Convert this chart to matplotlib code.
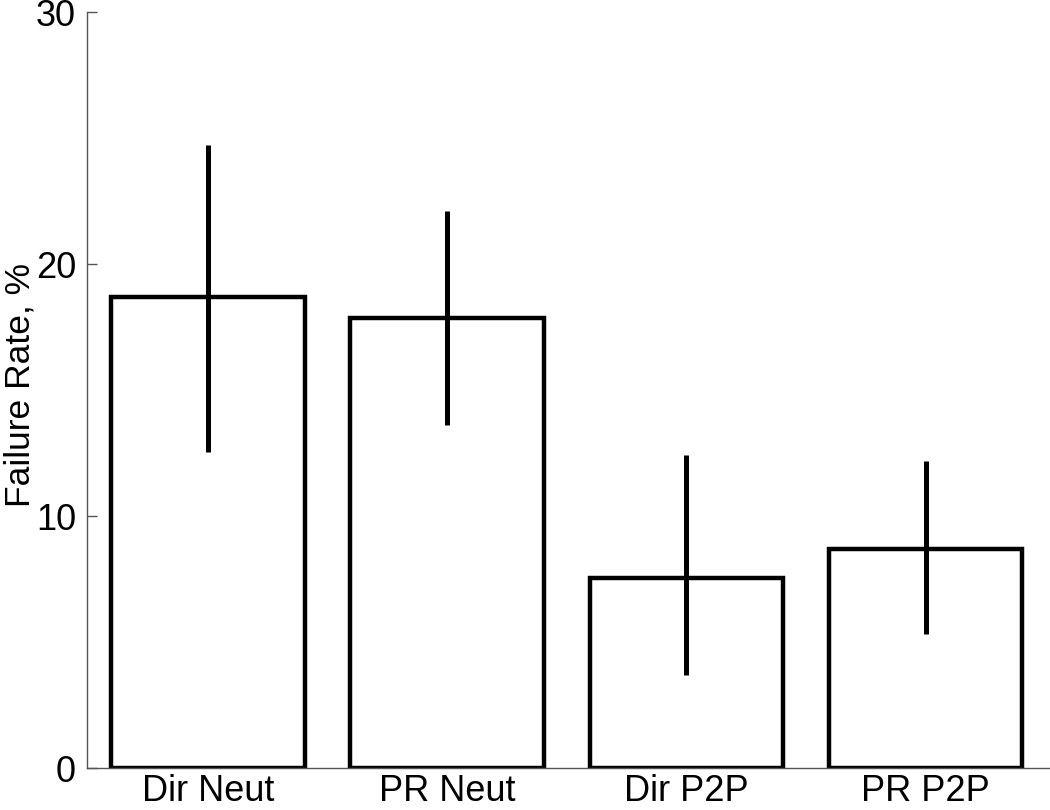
import matplotlib.pyplot as plt
import numpy as np

plt.rcParams['font.family'] = ['Liberation Sans', 'DejaVu Sans']

labels = ['Dir Neut', 'PR Neut', 'Dir P2P', 'PR P2P']
rate = [18.69, 17.86, 7.54, 8.69]
err_hi = [24.72, 22.10, 12.42, 12.18]
err_lo = [12.54, 13.61, 3.69, 5.32]

x = np.arange(1, len(labels) + 1)

fig = plt.figure(figsize=[10.5, 8.1], dpi=100)
ax = fig.add_axes([87/1050, 42/810, 963/1050, 756/810])

ax.bar(x, rate, width=0.81, color='white', edgecolor='black', linewidth=3.2)
ax.vlines(x, err_lo, err_hi, color='black', linewidth=3.6)

ax.set_xlim(0.494, 4.52)
ax.set_ylim(0, 30)
ax.set_yticks([0, 10, 20, 30])
ax.set_xticks(x)
ax.set_xticklabels(labels)
ax.tick_params(axis='y', direction='in', length=7, width=1, color='#555555', labelsize=26, pad=8)
ax.tick_params(axis='x', length=0, labelsize=26, pad=4)
# y label placed by hand so it sits against the left edge like the original
fig.text(29/1050, 1 - 507/810, 'Failure Rate, %', rotation=90, rotation_mode='anchor',
         ha='left', va='baseline', fontsize=25.5)

ax.spines['top'].set_visible(False)
ax.spines['right'].set_visible(False)
ax.spines['left'].set_color('#555555')
ax.spines['bottom'].set_color('#555555')
ax.spines['left'].set_linewidth(1)
ax.spines['bottom'].set_linewidth(1)

plt.savefig('out.png')
